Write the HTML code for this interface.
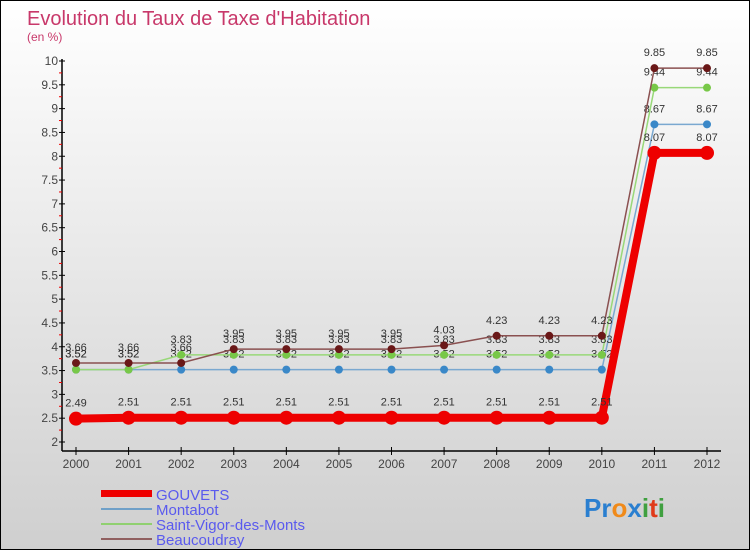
<!DOCTYPE html>
<html><head><meta charset="utf-8"><style>
body{margin:0}
#wrap{position:relative;width:748px;height:548px;border:1px solid #000;background:linear-gradient(#ffffff,#cfcfcf);font-family:"Liberation Sans",sans-serif;overflow:hidden}
</style></head><body>
<div id="wrap">
<svg id="c" width="748" height="548" xmlns="http://www.w3.org/2000/svg">
<text x="26" y="24" font-size="20" fill="#c8386a">Evolution du Taux de Taxe d'Habitation</text>
<text x="26" y="40" font-size="12" fill="#c8386a">(en %)</text>
<g id="axes"></g><g id="series"></g>
<g>
<rect x="100" y="489" width="51" height="7" fill="#e00"/>
<text x="155" y="499" font-size="15" fill="#5a5aee">GOUVETS</text>
<rect x="100" y="507" width="51" height="2" fill="#6fa0c8"/>
<text x="155" y="514" font-size="15" fill="#5a5aee">Montabot</text>
<rect x="100" y="522" width="51" height="2" fill="#90d070"/>
<text x="155" y="529" font-size="15" fill="#5a5aee">Saint-Vigor-des-Monts</text>
<rect x="100" y="537" width="51" height="2" fill="#906060"/>
<text x="155" y="544" font-size="15" fill="#5a5aee">Beaucoudray</text>
</g>
<text x="583" y="516" font-size="26" font-weight="bold"><tspan fill="#2a7fd0">Pr</tspan><tspan fill="#f08a1a">o</tspan><tspan fill="#2a7fd0">x</tspan><tspan fill="#40a040">i</tspan><tspan fill="#e03a1a">t</tspan><tspan fill="#40a040">i</tspan></text>
</svg>
</div>
<script>
const years=[2000,2001,2002,2003,2004,2005,2006,2007,2008,2009,2010,2011,2012];
const yTicks=[2,2.5,3,3.5,4,4.5,5,5.5,6,6.5,7,7.5,8,8.5,9,9.5,10];
const gouvets=[2.49,2.51,2.51,2.51,2.51,2.51,2.51,2.51,2.51,2.51,2.51,8.07,8.07];
const montabot=[3.52,3.52,3.52,3.52,3.52,3.52,3.52,3.52,3.52,3.52,3.52,8.67,8.67];
const saintVigor=[3.52,3.52,3.83,3.83,3.83,3.83,3.83,3.83,3.83,3.83,3.83,9.44,9.44];
const beaucoudray=[3.66,3.66,3.66,3.95,3.95,3.95,3.95,4.03,4.23,4.23,4.23,9.85,9.85];
const NS="http://www.w3.org/2000/svg";
const xs=i=>75+i*(706-75)/(years.length-1);
const ys=v=>441-(v-2)*(441-60)/8;
function mk(tag,attrs,parent){const e=document.createElementNS(NS,tag);for(const k in attrs)e.setAttribute(k,attrs[k]);parent.appendChild(e);return e;}
const ax=document.getElementById('axes');
let l=mk('line',{x1:61,y1:58,x2:61,y2:450,stroke:'#000','stroke-width':1.5},ax);


l=mk('line',{x1:61,y1:450,x2:720,y2:450,stroke:'#000','stroke-width':1.5},ax);


yTicks.forEach((t,i)=>{
 const y=ys(t);
 mk('line',{x1:58,y1:y,x2:64,y2:y,stroke:'#000'},ax);
 if(i<yTicks.length-1)mk('line',{x1:58,y1:ys(t+0.25),x2:61,y2:ys(t+0.25),stroke:'#e00'},ax);
 const tx=mk('text',{x:57,y:y+4,'font-size':12,'text-anchor':'end',fill:'#444'},ax);
 tx.textContent=String(t);
 
 
});
years.forEach((yr,i)=>{
 const x=xs(i);
 mk('line',{x1:x,y1:446,x2:x,y2:454,stroke:'#000'},ax);
 const tx=mk('text',{x:x,y:467,'font-size':12,'text-anchor':'middle',fill:'#444'},ax);
 tx.textContent=String(yr);
 
 
});
const sg=document.getElementById('series');
function draw(vals,color,w,r,dot,name){
 const g=mk('g',{},sg);
 
 
 const p=mk('polyline',{points:vals.map((v,i)=>xs(i)+','+ys(v)).join(' '),fill:'none',stroke:color,'stroke-width':w},g);
 
 
 vals.forEach((v,i)=>{
  const c=mk('circle',{cx:xs(i),cy:ys(v),r:r,fill:dot},g);
  
  
  const t=mk('text',{x:xs(i),y:ys(v)-12,'font-size':11,'text-anchor':'middle',fill:'#333'},g);
  t.textContent=v.toFixed(2);
  
  
 });
}
draw(montabot,'#7aa8d0',1.5,4,'#3a88c8','montabot');
draw(saintVigor,'#98d878',1.5,4,'#78c848','saint-vigor');
draw(beaucoudray,'#8a5050',1.5,4,'#6a1818','beaucoudray');
draw(gouvets,'#ee0000',8,7,'#ee0000','gouvets');
</script>
</body></html>
